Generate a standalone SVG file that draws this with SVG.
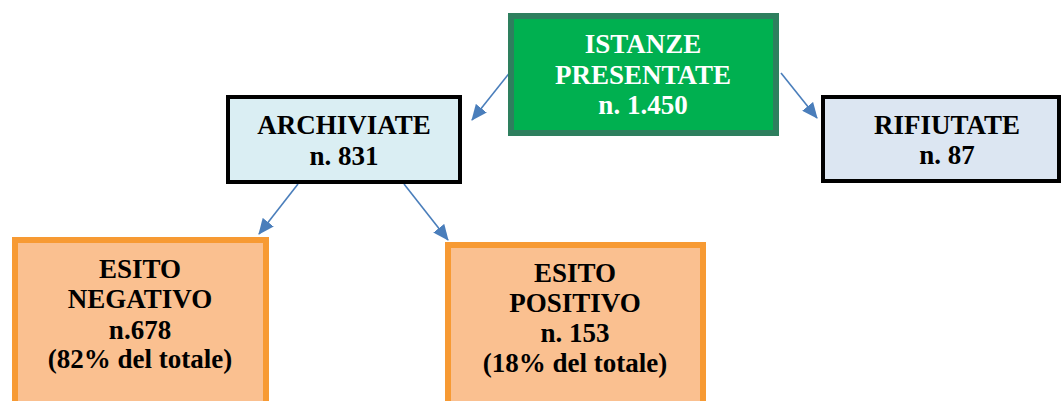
<svg xmlns="http://www.w3.org/2000/svg" width="1061" height="401" viewBox="0 0 1061 401">
<style>
text{font-family:"Liberation Serif","Times New Roman",serif;font-weight:bold;font-size:27px;text-anchor:middle;fill:#000}
.w{fill:#fff}
.conn line{stroke:#4A7EBB;stroke-width:1.6;fill:none}
</style>
<defs>
<marker id="ah" markerUnits="userSpaceOnUse" markerWidth="16" markerHeight="14" viewBox="0 0 16 14" refX="15" refY="7" orient="auto">
<path d="M0,0 L16,7 L0,14 Z" fill="#4A7EBB"/>
</marker>
</defs>
<rect width="1061" height="401" fill="#fff"/>
<g id="conns" class="conn">
<line x1="511" y1="71" x2="472" y2="120" marker-end="url(#ah)"/>
<line x1="781" y1="73" x2="817" y2="118" marker-end="url(#ah)"/>
<line x1="298" y1="184" x2="259" y2="234" marker-end="url(#ah)"/>
<line x1="404" y1="184" x2="448" y2="240" marker-end="url(#ah)"/>
</g>
<g id="istanze">
<rect x="511" y="16" width="265" height="117" fill="#00B050" stroke="#2E7F5E" stroke-width="6"/>
<text class="w" x="643" y="53">ISTANZE</text>
<text class="w" x="643" y="84">PRESENTATE</text>
<text class="w" x="643" y="114">n. 1.450</text>
</g>
<g id="archiviate">
<rect x="228" y="97" width="232" height="85" fill="#DAEEF3" stroke="#000" stroke-width="4"/>
<text x="344" y="134">ARCHIVIATE</text>
<text x="344" y="165">n. 831</text>
</g>
<g id="rifiutate">
<rect x="823" y="97" width="236" height="84" fill="#DCE6F2" stroke="#000" stroke-width="4"/>
<text x="947" y="134">RIFIUTATE</text>
<text x="947" y="164">n. 87</text>
</g>
<g id="negativo">
<rect x="15" y="240" width="251" height="180" fill="#FAC090" stroke="#F79A33" stroke-width="6"/>
<text x="140" y="278">ESITO</text>
<text x="140" y="308">NEGATIVO</text>
<text x="140" y="339">n.678</text>
<text x="140" y="368">(82% del totale)</text>
</g>
<g id="positivo">
<rect x="448" y="245" width="255" height="180" fill="#FAC090" stroke="#F79A33" stroke-width="6"/>
<text x="575" y="282">ESITO</text>
<text x="575" y="312">POSITIVO</text>
<text x="575" y="342">n. 153</text>
<text x="575" y="372">(18% del totale)</text>
</g>
</svg>
